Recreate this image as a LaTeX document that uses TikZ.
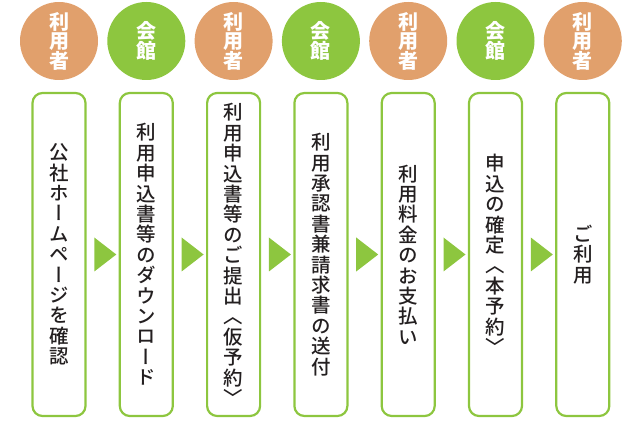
\documentclass[tikz,border=0pt]{standalone}
\usepackage{fontspec}
\newfontfamily\jpfont[RawFeature=+vert]{Noto Sans CJK JP}
\newfontfamily\jpmid[RawFeature=+vert]{Noto Sans CJK JP Medium}
\usetikzlibrary{shapes.geometric}
\definecolor{userorange}{HTML}{E1A06C}
\definecolor{hallgreen}{HTML}{8DC63F}
\definecolor{textdark}{HTML}{231F20}

\begin{document}
\begin{tikzpicture}[
    x=1pt, y=-1pt,           % 1 unit = 1 px, y downwards
    who/.style={circle, minimum size=78pt, inner sep=0pt, text=white,
        font=\jpfont\bfseries\fontsize{20}{19.5}\selectfont, align=center},
    user/.style={who, fill=userorange},
    hall/.style={who, fill=hallgreen},
    stepbox/.style={draw=hallgreen, line width=2.2pt, rounded corners=10pt,
        minimum width=53pt, minimum height=323pt, inner sep=0pt, text=textdark,
        font=\jpmid\fontsize{19.5}{20.4}\selectfont, align=center},
    tri/.style={isosceles triangle, isosceles triangle stretches, fill=hallgreen,
        minimum width=34pt, minimum height=22pt, inner sep=0pt}
]
    \useasboundingbox (0,0) rectangle (625,430);

    % --- 1. 担当 (Circles) ---
    \node[user] (w1) at (59, 41)    {利\\用\\者};
    \node[hall] (w2) at (146.3, 41) {会\\館};
    \node[user] (w3) at (233.6, 41) {利\\用\\者};
    \node[hall] (w4) at (320.9, 41) {会\\館};
    \node[user] (w5) at (408.2, 41) {利\\用\\者};
    \node[hall] (w6) at (495.5, 41) {会\\館};
    \node[user] (w7) at (582.8, 41) {利\\用\\者};

    % --- 2. 手順 (Step boxes, vertical text) ---
    \node[stepbox] (s1) at (59, 254.5)
        {公\\社\\ホ\\ー\\ム\\ペ\\ー\\ジ\\を\\確\\認};
    \node[stepbox] (s2) at (146.3, 254.5)
        {利\\用\\申\\込\\書\\等\\の\\ダ\\ウ\\ン\\ロ\\ー\\ド};
    \node[stepbox] (s3) at (233.6, 254.5)
        {利\\用\\申\\込\\書\\等\\の\\ご\\提\\出\\︿\\仮\\予\\約\\﹀};
    \node[stepbox] (s4) at (320.9, 254.5)
        {利\\用\\承\\認\\書\\兼\\請\\求\\書\\の\\送\\付};
    \node[stepbox] (s5) at (408.2, 254.5)
        {利\\用\\料\\金\\の\\お\\支\\払\\い};
    \node[stepbox] (s6) at (495.5, 254.5)
        {申\\込\\の\\確\\定\\︿\\本\\予\\約\\﹀};
    \node[stepbox] (s7) at (582.8, 254.5)
        {ご\\利\\用};

    % --- 3. 矢印 (Triangles between steps) ---
    \path (s1) -- node[tri] {} (s2);
    \path (s2) -- node[tri] {} (s3);
    \path (s3) -- node[tri] {} (s4);
    \path (s4) -- node[tri] {} (s5);
    \path (s5) -- node[tri] {} (s6);
    \path (s6) -- node[tri] {} (s7);

\end{tikzpicture}
\end{document}
